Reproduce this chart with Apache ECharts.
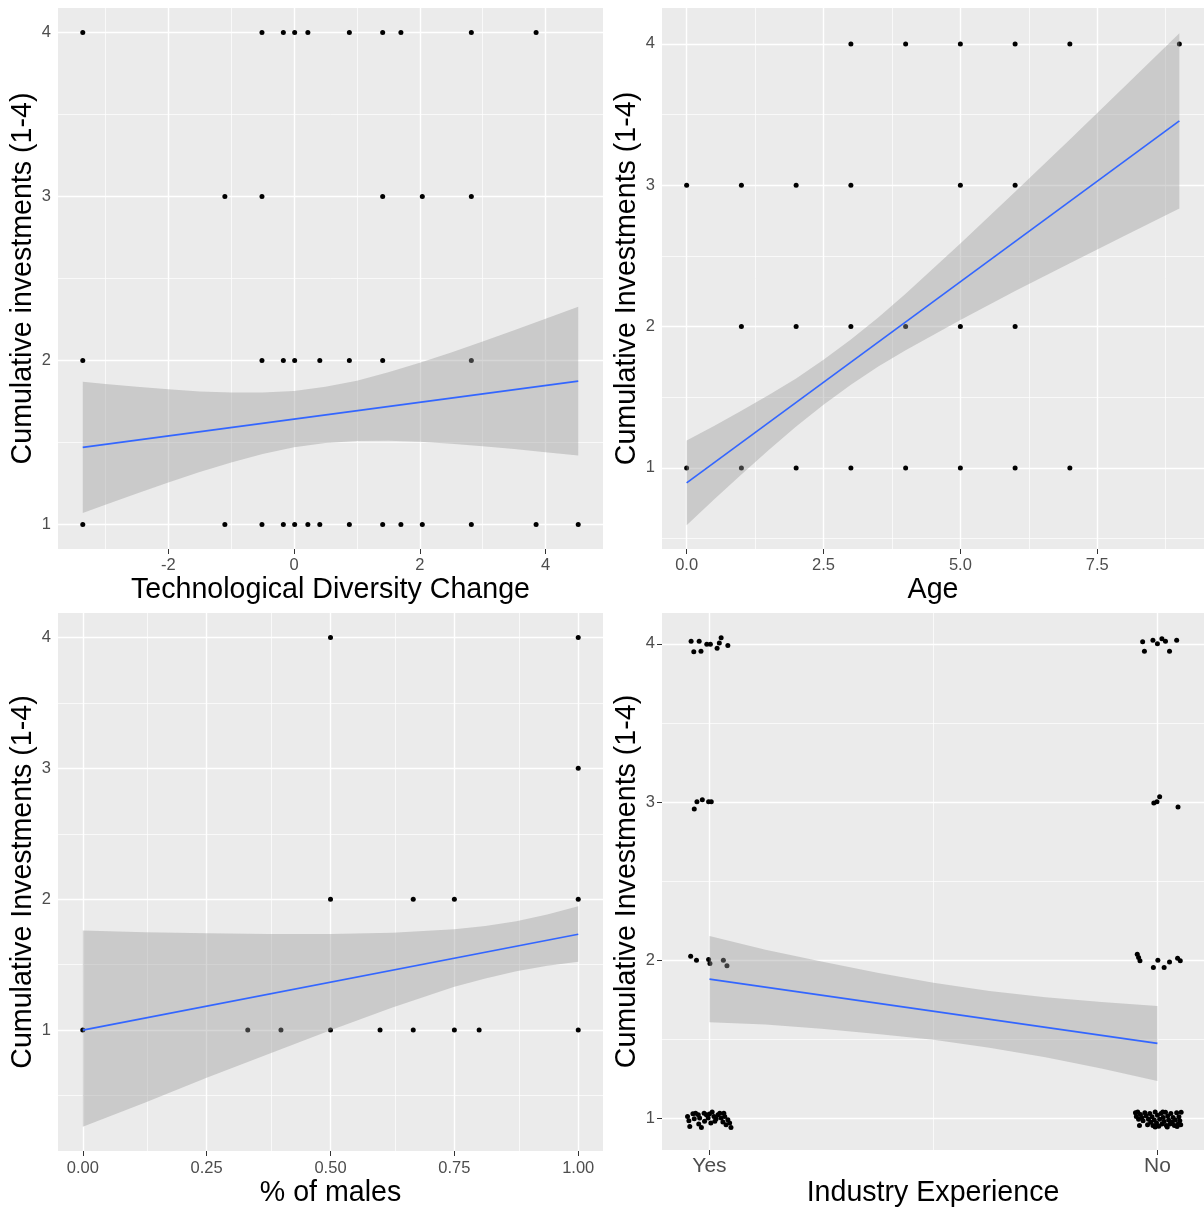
<!DOCTYPE html>
<html><head><meta charset="utf-8">
<script src="https://cdn.jsdelivr.net/npm/echarts@6/dist/echarts.min.js"></script>
<style>html,body{margin:0;padding:0;background:#fff}#c{width:1204px;height:1209px}</style>
</head><body><div id="c"></div>
<script>
// ---------- DATA ----------
// Panel 1: Technological Diversity Change
const techX_inv4 = [-3.36,-0.51,-0.17,0.01,0.22,0.88,1.41,1.70,2.82,3.85];
const techX_inv3 = [-1.10,-0.51,1.41,2.04,2.82];
const techX_inv2 = [-3.36,-0.51,-0.17,0.01,0.41,0.88,1.41,2.82];
const techX_inv1 = [-3.36,-1.10,-0.51,-0.17,0.01,0.22,0.41,0.88,1.41,1.70,2.04,2.82,3.85,4.52];
const techFitX = [-3.36, 4.52];
const techFitY = [1.470, 1.874];
const techBandX  = [-3.36,-3,-2.5,-2,-1.5,-1,-0.5,0,0.5,1,1.5,2,2.5,3,3.5,4,4.52];
const techBandHi = [1.870,1.856,1.839,1.824,1.811,1.804,1.804,1.814,1.839,1.877,1.928,1.986,2.048,2.115,2.184,2.254,2.328];
const techBandLo = [1.070,1.120,1.189,1.256,1.319,1.378,1.430,1.470,1.497,1.509,1.510,1.504,1.492,1.477,1.460,1.440,1.420];
const techXTicks = [-2,0,2,4];
const techXTickLabels = ['-2','0','2','4'];
const techXMinor = [-3,-1,1,3];

// Panel 2: Age
const ageX_inv4 = [3,4,5,6,7,9];
const ageX_inv3 = [0,1,2,3,5,6];
const ageX_inv2 = [1,2,3,4,5,6];
const ageX_inv1 = [0,1,2,3,4,5,6,7];
const ageFitX = [0, 9];
const ageFitY = [0.894, 3.455];
const ageBandX  = [0,0.5,1,1.5,2,2.5,3,3.5,4,5,6,7,8,9];
const ageBandHi = [1.194,1.296,1.404,1.516,1.633,1.765,1.908,2.064,2.232,2.587,2.953,3.324,3.699,4.075];
const ageBandLo = [0.594,0.777,0.954,1.126,1.293,1.447,1.588,1.717,1.832,2.047,2.251,2.448,2.643,2.835];
const ageXTicks = [0,2.5,5,7.5];
const ageXTickLabels = ['0.0','2.5','5.0','7.5'];
const ageXMinor = [1.25,3.75,6.25,8.75];

// Panel 3: % of males
const malesX_inv4 = [0.5,1];
const malesX_inv3 = [1];
const malesX_inv2 = [0.5,0.667,0.75,1];
const malesX_inv1 = [0,0.333,0.4,0.5,0.6,0.667,0.75,0.8,1];
const malesFitX = [0, 1];
const malesFitY = [1.0, 1.732];
const malesBandX  = [0,0.125,0.25,0.375,0.5,0.625,0.75,0.8125,0.875,0.9375,1];
const malesBandHi = [1.760,1.748,1.740,1.734,1.734,1.743,1.770,1.795,1.832,1.884,1.946];
const malesBandLo = [0.262,0.445,0.635,0.818,0.998,1.173,1.331,1.395,1.450,1.492,1.522];
const malesXTicks = [0,0.25,0.5,0.75,1];
const malesXTickLabels = ['0.00','0.25','0.50','0.75','1.00'];
const malesXMinor = [0.125,0.375,0.625,0.875];

// Panel 4: Industry Experience (1 = Yes, 2 = No), jittered points
const industryYesPts = [
  [0.959,4.016],[0.965,3.950],[0.977,4.016],[0.981,3.953],[0.994,3.998],[1.002,3.998],[1.017,3.972],[1.022,4.006],[1.026,4.038],[1.041,3.989],
  [0.966,2.956],[0.972,3.002],[0.984,3.015],[0.998,3.002],[1.004,3.002],
  [0.958,2.025],[0.971,2.000],[0.998,2.004],[1.001,1.979],[1.031,2.000],[1.039,1.965],
  [0.951,1.012],[0.954,0.985],[0.956,0.949],[0.963,1.029],[0.969,1.033],[0.975,1.023],[0.978,1.002],[0.976,0.964],[0.982,0.943],[0.988,1.033],
  [0.993,1.023],[0.997,1.002],[1.000,1.027],[1.006,1.040],[1.010,1.012],[1.012,0.981],[1.015,0.998],[1.019,1.023],[1.023,1.033],[1.026,1.002],
  [1.030,0.977],[1.034,1.012],[1.037,0.960],[1.041,0.991],[1.045,0.970],[1.048,0.943],[1.032,1.033],[1.003,0.970],[0.989,0.981],[0.966,0.998]
];
const industryNoPts = [
  [1.967,4.013],[1.971,3.953],[1.990,4.023],[2.000,4.000],[2.010,4.032],[2.018,4.016],[2.027,3.953],[2.043,4.023],
  [1.992,2.994],[1.999,3.002],[2.005,3.033],[2.046,2.968],
  [1.955,2.038],[1.958,2.017],[1.961,1.996],[1.991,1.954],[2.001,2.000],[2.015,1.954],[2.027,1.988],[2.045,2.013],[2.051,1.996],
  [1.951,1.035],[1.953,1.012],[1.956,1.040],[1.958,0.995],[1.962,1.025],[1.965,1.005],[1.968,0.985],[1.972,1.035],[1.975,1.015],[1.978,0.960],
  [1.980,0.995],[1.983,1.030],[1.985,0.975],[1.988,1.010],[1.990,0.955],[1.993,0.990],[1.995,1.040],[1.998,0.970],[2.000,1.020],[2.003,0.950],
  [2.005,0.995],[2.008,1.030],[2.010,0.965],[2.013,1.005],[2.015,0.980],[2.018,1.038],[2.020,0.955],[2.023,1.015],[2.025,0.990],[2.028,0.965],
  [2.030,1.030],[2.033,0.975],[2.035,1.005],[2.038,0.955],[2.040,0.990],[2.043,1.035],[2.046,0.965],[2.048,1.010],[2.050,0.985],[2.052,0.960],
  [2.053,1.038],[1.960,0.955],[2.012,1.040],[1.995,0.945],[2.022,0.945],[2.044,0.948]
];
const industryFitX = [1, 2];
const industryFitY = [1.880, 1.474];
const industryBandX  = [1,1.125,1.25,1.375,1.5,1.625,1.75,1.875,2];
const industryBandHi = [2.153,2.066,1.991,1.920,1.857,1.806,1.766,1.736,1.711];
const industryBandLo = [1.607,1.593,1.566,1.533,1.497,1.446,1.386,1.315,1.237];
const industryXTicks = [1,2];
const industryXTickLabels = ['Yes','No'];
const industryXMinor = [1.5];

// Shared y ticks
const yTicks = [1,2,3,4];
const yTickLabels = ['1','2','3','4'];

// ---------- CHART ----------
const FONT = '"Liberation Sans", Arial, sans-serif';
function pts(xs, y){ return xs.map(x => [x, y]); }
function fmt(ticks, labels){ return v => { for (let k=0;k<ticks.length;k++){ if (Math.abs(ticks[k]-v)<1e-9) return labels[k]; } return ''; }; }

const panels = [
  { grid:{left:58, top:8, width:545, height:541}, xmin:-3.754, xmax:4.914, ymin:0.85, ymax:4.15,
    xT:techXTicks, xL:techXTickLabels, xM:techXMinor, yM:[1.5,2.5,3.5],
    xName:'Technological Diversity Change', yName:'Cumulative investments (1-4)', xGap:27, yGap:20, xFont:16.5, xMargin:8,
    points:[].concat(pts(techX_inv4,4),pts(techX_inv3,3),pts(techX_inv2,2),pts(techX_inv1,1)),
    fitX:techFitX, fitY:techFitY, bX:techBandX, bH:techBandHi, bL:techBandLo },
  { grid:{left:662, top:8, width:546, height:541}, xmin:-0.45, xmax:9.45, ymin:0.426, ymax:4.254,
    xT:ageXTicks, xL:ageXTickLabels, xM:ageXMinor, yM:[0.5,1.5,2.5,3.5],
    xName:'Age', yName:'Cumulative Investments (1-4)', xGap:27, yGap:20, xFont:16.5, xMargin:8,
    points:[].concat(pts(ageX_inv4,4),pts(ageX_inv3,3),pts(ageX_inv2,2),pts(ageX_inv1,1)),
    fitX:ageFitX, fitY:ageFitY, bX:ageBandX, bH:ageBandHi, bL:ageBandLo },
  { grid:{left:58, top:613, width:545, height:544}, xmin:-0.05, xmax:1.05, ymin:0.076, ymax:4.187,
    xT:malesXTicks, xL:malesXTickLabels, xM:malesXMinor, yM:[0.5,1.5,2.5,3.5],
    xName:'% of males', yName:'Cumulative Investments (1-4)', xGap:28, yGap:20, xFont:16.5, xMargin:9,
    points:[].concat(pts(malesX_inv4,4),pts(malesX_inv3,3),pts(malesX_inv2,2),pts(malesX_inv1,1)),
    fitX:malesFitX, fitY:malesFitY, bX:malesBandX, bH:malesBandHi, bL:malesBandLo },
  { grid:{left:662, top:613, width:546, height:539}, xmin:0.894, xmax:2.104, ymin:0.80, ymax:4.195,
    xT:industryXTicks, xL:industryXTickLabels, xM:industryXMinor, yM:[1.5,2.5,3.5],
    xName:'Industry Experience', yName:'Cumulative Investments (1-4)', xGap:29, yGap:20, xFont:21, xMargin:6,
    points:[].concat(industryYesPts, industryNoPts),
    fitX:industryFitX, fitY:industryFitY, bX:industryBandX, bH:industryBandHi, bL:industryBandLo }
];

const grids=[], xAxes=[], yAxes=[], series=[];
panels.forEach((p,i) => {
  grids.push(Object.assign({show:true, backgroundColor:'#EBEBEB', borderWidth:0, containLabel:false}, p.grid));
  xAxes.push({type:'value', gridIndex:i, min:p.xmin, max:p.xmax,
    axisLine:{show:false}, splitLine:{show:false},
    axisTick:{show:true, customValues:p.xT, length:5, lineStyle:{color:'#333333', width:1}},
    axisLabel:{customValues:p.xT, formatter:fmt(p.xT,p.xL), color:'#4D4D4D', fontSize:p.xFont, fontFamily:FONT, margin:p.xMargin, hideOverlap:false},
    name:p.xName, nameLocation:'middle', nameGap:p.xGap, nameTextStyle:{fontSize:28.6, color:'#000', fontFamily:FONT}});
  yAxes.push({type:'value', gridIndex:i, min:p.ymin, max:p.ymax,
    axisLine:{show:false}, splitLine:{show:false},
    axisTick:{show:true, customValues:yTicks, length:5, lineStyle:{color:'#333333', width:1}},
    axisLabel:{customValues:yTicks, formatter:fmt(yTicks,yTickLabels), color:'#4D4D4D', fontSize:16.5, fontFamily:FONT, margin:7, hideOverlap:false},
    name:p.yName, nameLocation:'middle', nameRotate:90, nameGap:p.yGap, nameTextStyle:{fontSize:28.6, color:'#000', fontFamily:FONT}});
  const ml = [];
  p.xM.forEach(v => ml.push({xAxis:v, lineStyle:{width:0.7}}));
  p.yM.forEach(v => ml.push({yAxis:v, lineStyle:{width:0.7}}));
  p.xT.forEach(v => ml.push({xAxis:v, lineStyle:{width:1.4}}));
  yTicks.forEach(v => ml.push({yAxis:v, lineStyle:{width:1.4}}));
  series.push({type:'line', xAxisIndex:i, yAxisIndex:i, data:[], z:1, silent:true,
    markLine:{z:1, silent:true, symbol:['none','none'], label:{show:false}, animation:false,
      lineStyle:{color:'#FFFFFF', type:'solid', width:1.4}, emphasis:{disabled:true}, data:ml}});
  series.push({type:'scatter', xAxisIndex:i, yAxisIndex:i, data:p.points, symbolSize:5,
    itemStyle:{color:'#000000', opacity:1}, z:2, silent:true});
  const bX=p.bX, bH=p.bH, bL=p.bL;
  series.push({type:'custom', xAxisIndex:i, yAxisIndex:i, z:3, silent:true, data:[[bX[0], bL[0]]],
    renderItem:function(params, api){
      const poly=[];
      for (let k=0;k<bX.length;k++) poly.push(api.coord([bX[k], bH[k]]));
      for (let k=bX.length-1;k>=0;k--) poly.push(api.coord([bX[k], bL[k]]));
      return {type:'polygon', shape:{points:poly}, style:{fill:'rgba(153,153,153,0.4)'}};
    }});
  series.push({type:'line', xAxisIndex:i, yAxisIndex:i, z:4, silent:true, showSymbol:false,
    data:p.fitX.map((x,k)=>[x, p.fitY[k]]), lineStyle:{color:'#3366FF', width:1.7}});
});

const chart = echarts.init(document.getElementById('c'), null, {renderer:'canvas'});
chart.setOption({animation:false, backgroundColor:'#FFFFFF', grid:grids, xAxis:xAxes, yAxis:yAxes, series:series});
</script></body></html>
